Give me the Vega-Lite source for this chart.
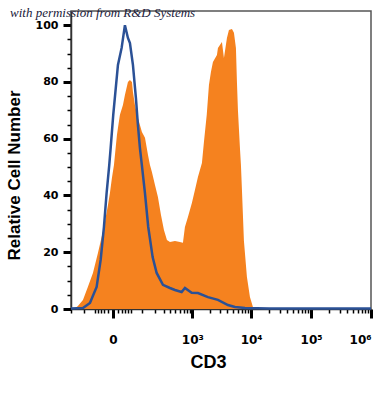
{
  "$schema": "https://vega.github.io/schema/vega-lite/v6.json",
  "width": 300,
  "height": 298,
  "autosize": {"type": "none"},
  "padding": {"left": 71, "top": 11, "right": 3, "bottom": 87},
  "background": "white",
  "title": {
    "text": "with permission from R&D Systems",
    "anchor": "start",
    "frame": "group",
    "dx": -61,
    "dy": 10,
    "offset": -9,
    "baseline": "alphabetic",
    "font": "Liberation Serif",
    "fontStyle": "italic",
    "fontWeight": "normal",
    "fontSize": 13,
    "color": "#1a1a3a"
  },
  "config": {"view": {"stroke": "#555555", "strokeWidth": 1.5}},
  "datasets": {
    "cd3": [
      {"fluorescence": -200, "count": 0},
      {"fluorescence": -165, "count": 0.2},
      {"fluorescence": -142, "count": 1.1},
      {"fluorescence": -108, "count": 3.2},
      {"fluorescence": -80.5, "count": 7.8},
      {"fluorescence": -57.7, "count": 12.7},
      {"fluorescence": -38.9, "count": 19.7},
      {"fluorescence": -20.6, "count": 28.9},
      {"fluorescence": -10.6, "count": 36.6},
      {"fluorescence": -6.1, "count": 40.9},
      {"fluorescence": -2, "count": 46.2},
      {"fluorescence": 2, "count": 50.7},
      {"fluorescence": 6.1, "count": 57.8},
      {"fluorescence": 8.3, "count": 61.3},
      {"fluorescence": 10.6, "count": 63.8},
      {"fluorescence": 15.4, "count": 68.4},
      {"fluorescence": 23.4, "count": 71.9},
      {"fluorescence": 29.2, "count": 75.4},
      {"fluorescence": 38.9, "count": 80},
      {"fluorescence": 46, "count": 80.7},
      {"fluorescence": 53.7, "count": 80},
      {"fluorescence": 57.7, "count": 76.5},
      {"fluorescence": 66.3, "count": 71.9},
      {"fluorescence": 80.5, "count": 67.3},
      {"fluorescence": 102, "count": 62.4},
      {"fluorescence": 121, "count": 60.3},
      {"fluorescence": 142, "count": 54.3},
      {"fluorescence": 157, "count": 50.7},
      {"fluorescence": 173, "count": 48.3},
      {"fluorescence": 201, "count": 43.7},
      {"fluorescence": 231, "count": 39.5},
      {"fluorescence": 266, "count": 33.1},
      {"fluorescence": 304, "count": 27.8},
      {"fluorescence": 347, "count": 24.3},
      {"fluorescence": 396, "count": 23.6},
      {"fluorescence": 490, "count": 24},
      {"fluorescence": 604, "count": 23.6},
      {"fluorescence": 684, "count": 23.3},
      {"fluorescence": 742, "count": 28.9},
      {"fluorescence": 839, "count": 32.4},
      {"fluorescence": 987, "count": 37.4},
      {"fluorescence": 1113, "count": 41.9},
      {"fluorescence": 1255, "count": 46.5},
      {"fluorescence": 1471, "count": 51.4},
      {"fluorescence": 1593, "count": 58.8},
      {"fluorescence": 1780, "count": 68.4},
      {"fluorescence": 1941, "count": 78.9},
      {"fluorescence": 2099, "count": 83.5},
      {"fluorescence": 2271, "count": 87},
      {"fluorescence": 2656, "count": 89.5},
      {"fluorescence": 2762, "count": 92},
      {"fluorescence": 3229, "count": 94.1},
      {"fluorescence": 3490, "count": 88.4},
      {"fluorescence": 3922, "count": 95.5},
      {"fluorescence": 4238, "count": 98.3},
      {"fluorescence": 4762, "count": 98.7},
      {"fluorescence": 5146, "count": 97.3},
      {"fluorescence": 5560, "count": 92},
      {"fluorescence": 5780, "count": 80},
      {"fluorescence": 6008, "count": 70},
      {"fluorescence": 6491, "count": 56.7},
      {"fluorescence": 6747, "count": 50.7},
      {"fluorescence": 7013, "count": 42},
      {"fluorescence": 7576, "count": 24},
      {"fluorescence": 8505, "count": 11.3},
      {"fluorescence": 9549, "count": 4.2},
      {"fluorescence": 10721, "count": 0.7},
      {"fluorescence": 12031, "count": 0.1},
      {"fluorescence": 50000, "count": 0},
      {"fluorescence": 1000000, "count": 0}
    ],
    "isotype": [
      {"fluorescence": -200, "count": 0.2},
      {"fluorescence": -108, "count": 0.35},
      {"fluorescence": -70.8, "count": 2.1},
      {"fluorescence": -43.5, "count": 7.8},
      {"fluorescence": -30.1, "count": 17.3},
      {"fluorescence": -20.6, "count": 28.9},
      {"fluorescence": -13.7, "count": 40.9},
      {"fluorescence": -7.6, "count": 50.7},
      {"fluorescence": -4.6, "count": 56.7},
      {"fluorescence": 0.6, "count": 68.4},
      {"fluorescence": 10.6, "count": 86},
      {"fluorescence": 19.8, "count": 92},
      {"fluorescence": 29.2, "count": 100},
      {"fluorescence": 38.9, "count": 95.5},
      {"fluorescence": 46, "count": 93.7},
      {"fluorescence": 57.7, "count": 86},
      {"fluorescence": 70.8, "count": 74.3},
      {"fluorescence": 80.5, "count": 64.8},
      {"fluorescence": 90.9, "count": 56.7},
      {"fluorescence": 100.4, "count": 51.4},
      {"fluorescence": 120.7, "count": 40.9},
      {"fluorescence": 143.8, "count": 28.9},
      {"fluorescence": 179.4, "count": 18.3},
      {"fluorescence": 217.6, "count": 12.7},
      {"fluorescence": 290.6, "count": 8.5},
      {"fluorescence": 395.6, "count": 7.4},
      {"fluorescence": 489.9, "count": 6.7},
      {"fluorescence": 648, "count": 6},
      {"fluorescence": 742, "count": 7.4},
      {"fluorescence": 975, "count": 5.7},
      {"fluorescence": 1255, "count": 5.6},
      {"fluorescence": 1866, "count": 4.2},
      {"fluorescence": 2762, "count": 3.2},
      {"fluorescence": 4077, "count": 1.4},
      {"fluorescence": 5350, "count": 0.7},
      {"fluorescence": 7875, "count": 0.35},
      {"fluorescence": 20000, "count": 0.2},
      {"fluorescence": 1000000, "count": 0.2}
    ]
  },
  "layer": [
    {
      "data": {"name": "cd3"},
      "mark": {"type": "area", "color": "#F5821F", "opacity": 1},
      "encoding": {
        "x": {
          "field": "fluorescence",
          "type": "quantitative",
          "scale": {"type": "symlog", "constant": 50, "domain": [-200, 1000000], "nice": false, "zero": false},
          "axis": {
            "values": [-200, -100, -50, -40, -30, -20, -10, 0, 10, 20, 30, 40, 50, 100, 200, 300, 400, 500, 600, 700, 800, 900, 1000, 2000, 3000, 4000, 5000, 6000, 7000, 8000, 9000, 10000, 20000, 30000, 40000, 50000, 60000, 70000, 80000, 90000, 100000, 200000, 300000, 400000, 500000, 600000, 700000, 800000, 900000, 1000000],
            "tickCount": 200,
            "labelExpr": "datum.value == 0 ? '0' : datum.value == 1000 ? '10³' : datum.value == 10000 ? '10⁴' : datum.value == 100000 ? '10⁵' : datum.value == 1000000 ? '10⁶' : ''",
            "tickSize": {"condition": {"test": "datum.value == 0 || datum.value == 1000 || datum.value == 10000 || datum.value == 100000 || datum.value == 1000000", "value": 9}, "value": 4},
            "tickWidth": {"condition": {"test": "datum.value == 0 || datum.value == 1000 || datum.value == 10000 || datum.value == 100000 || datum.value == 1000000", "value": 3}, "value": 1.5},
            "tickColor": "black",
            "domainColor": "#333333",
            "domainWidth": 1.5,
            "grid": false,
            "labelFont": "DejaVu Sans",
            "labelFontWeight": "bold",
            "labelFontSize": 12,
            "labelColor": "black",
            "labelPadding": 16,
            "labelOverlap": false,
            "labelSeparation": -60,
            "labelFlush": true,
            "labelBound": false,
            "title": "CD3",
            "titleFont": "Liberation Sans",
            "titleFontSize": 18,
            "titleFontWeight": "bold",
            "titleColor": "black",
            "titleX": 137,
            "titleY": 58,
            "titleBaseline": "alphabetic"
          }
        },
        "y": {
          "field": "count",
          "type": "quantitative",
          "scale": {"domain": [0, 105], "nice": false},
          "axis": {
            "values": [0, 5, 10, 15, 20, 25, 30, 35, 40, 45, 50, 55, 60, 65, 70, 75, 80, 85, 90, 95, 100],
            "tickCount": 100,
            "labelExpr": "datum.value % 20 == 0 ? datum.label : ''",
            "tickSize": {"condition": {"test": "datum.value % 20 == 0", "value": 8}, "value": 4},
            "tickWidth": {"condition": {"test": "datum.value % 20 == 0", "value": 3}, "value": 1.5},
            "tickColor": "black",
            "domainColor": "#333333",
            "domainWidth": 1.5,
            "grid": false,
            "labelFont": "DejaVu Sans",
            "labelFontWeight": "bold",
            "labelFontSize": 11,
            "labelColor": "black",
            "labelPadding": 5,
            "labelOverlap": false,
            "labelSeparation": -60,
            "labelFlush": false,
            "title": "Relative Cell Number",
            "titleFont": "Liberation Sans",
            "titleFontSize": 17,
            "titleFontWeight": "bold",
            "titleColor": "black",
            "titleX": -52,
            "titleY": 164,
            "titleAngle": -90,
            "titleAlign": "center",
            "titleBaseline": "alphabetic"
          }
        }
      }
    },
    {
      "data": {"name": "isotype"},
      "mark": {"type": "line", "color": "#2B5196", "strokeWidth": 2.5},
      "encoding": {
        "x": {"field": "fluorescence", "type": "quantitative"},
        "y": {"field": "count", "type": "quantitative"}
      }
    }
  ]
}
